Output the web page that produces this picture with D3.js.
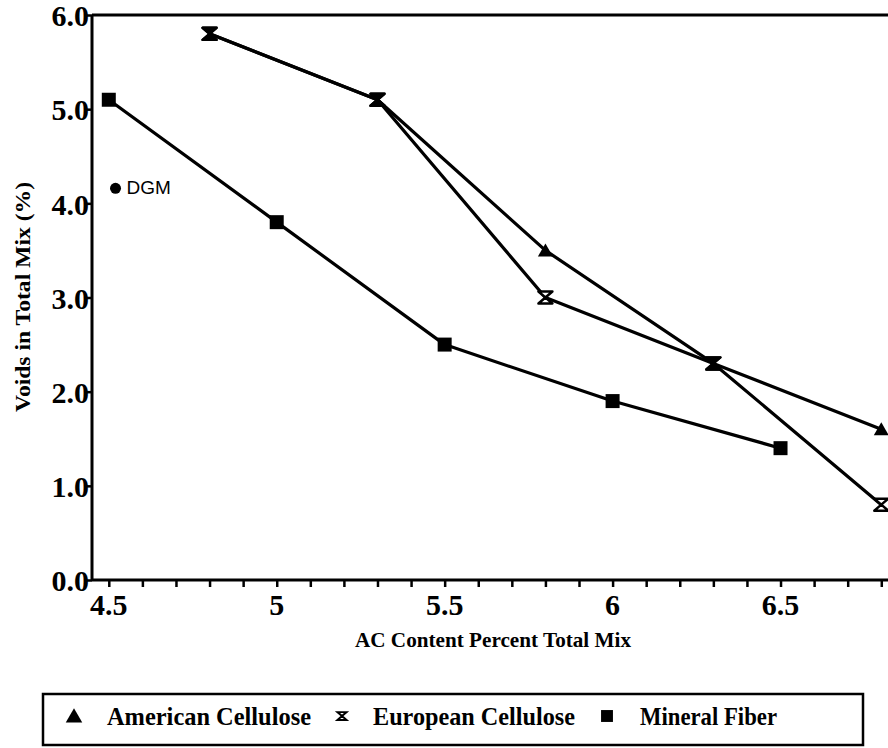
<!DOCTYPE html>
<html><head><meta charset="utf-8">
<script src="https://cdnjs.cloudflare.com/ajax/libs/d3/7.8.5/d3.min.js"></script>
<style>body{margin:0;background:#fff;} svg{display:block;}</style>
</head><body>
<svg id="c" width="888" height="748"></svg>
<script>
const acContent = [4.8, 5.3, 5.8, 6.3, 6.8];
const americanCellulose = [5.8, 5.1, 3.5, 2.3, 1.6];
const europeanCellulose = [5.8, 5.1, 3.0, 2.3, 0.8];
const mineralX = [4.5, 5.0, 5.5, 6.0, 6.5];
const mineralFiber = [5.1, 3.8, 2.5, 1.9, 1.4];
const dgmPoint = {x: 4.52, y: 4.16, label: "DGM"};
const xTickValues = [4.5, 5, 5.5, 6, 6.5];
const xTickLabels = ["4.5", "5", "5.5", "6", "6.5"];
const yTickValues = [0, 1, 2, 3, 4, 5, 6];
const seriesNames = ["American Cellulose", "European Cellulose", "Mineral Fiber"];

const svg = d3.select("#c");
const x = d3.scaleLinear().domain([4.45, 6.82]).range([92, 888]);
const y = d3.scaleLinear().domain([0, 6]).range([580, 15]);
const serif = "'Liberation Serif','Times New Roman',serif";

// top frame line
svg.append("line").attr("x1", x(4.45)).attr("x2", 888).attr("y1", y(6)).attr("y2", y(6))
  .attr("stroke", "#000").attr("stroke-width", 3);

// x axis
const minor = d3.range(45, 69).map(d => d / 10);
const xAxis = d3.axisBottom(x).tickValues(minor).tickSize(7).tickFormat("");
const gx = svg.append("g").attr("transform", `translate(0,${y(0)})`).call(xAxis);
gx.select(".domain").attr("stroke-width", 3).attr("d", `M${x(4.45)},0H888`);
gx.selectAll(".tick line").attr("stroke-width", 2.5);
gx.selectAll(".tick").filter(d => d < 4.5 - 1e-9).remove();
svg.append("g").selectAll("text").data(xTickValues).join("text")
  .attr("x", d => x(d)).attr("y", 615).attr("text-anchor", "middle")
  .attr("font-family", serif).attr("font-weight", "bold").attr("font-size", 30)
  .text((d, i) => xTickLabels[i]);

// y axis
const yAxis = d3.axisLeft(y).tickValues(yTickValues).tickSize(7).tickFormat(d3.format(".1f"));
const gy = svg.append("g").attr("transform", `translate(${x(4.45)},0)`).call(yAxis);
gy.select(".domain").attr("stroke-width", 3).attr("d", `M0,${y(6)}V${y(0)}`);
gy.selectAll(".tick line").attr("stroke-width", 2.5);
gy.selectAll(".tick text").attr("font-family", serif).attr("font-weight", "bold")
  .attr("font-size", 30).attr("x", -3).attr("dy", "0.36em").attr("fill", "#000");

// axis titles
svg.append("text").attr("x", 493).attr("y", 647).attr("text-anchor", "middle")
  .attr("font-family", serif).attr("font-weight", "bold").attr("font-size", 22)
  .attr("textLength", 276).attr("lengthAdjust", "spacingAndGlyphs")
  .text("AC Content Percent Total Mix");
svg.append("text").attr("transform", "translate(30,297) rotate(-90)").attr("text-anchor", "middle")
  .attr("font-family", serif).attr("font-weight", "bold").attr("font-size", 20)
  .attr("textLength", 230).attr("lengthAdjust", "spacingAndGlyphs")
  .text("Voids in Total Mix (%)");

const line = d3.line().x(d => x(d[0])).y(d => y(d[1]));
const amer = acContent.map((v, i) => [v, americanCellulose[i]]);
const euro = acContent.map((v, i) => [v, europeanCellulose[i]]);
const mine = mineralX.map((v, i) => [v, mineralFiber[i]]);
[amer, euro, mine].forEach(s => svg.append("path").attr("d", line(s))
  .attr("fill", "none").attr("stroke", "#000").attr("stroke-width", 3.2).attr("stroke-linejoin", "round"));

const tri = "M0,-7L7.5,6L-7.5,6Z";
const hour = "M-7,-6L7,-6L0,0L7,6L-7,6L0,0Z";
const sq = "M-7,-7H7V7H-7Z";
svg.append("g").selectAll("path").data(euro).join("path")
  .attr("transform", d => `translate(${x(d[0])},${y(d[1])})`).attr("d", hour)
  .attr("fill", "#fff").attr("stroke", "#000").attr("stroke-width", 2.5).attr("stroke-linejoin", "round");
svg.append("g").selectAll("path").data(amer.filter((d, i) => americanCellulose[i] !== europeanCellulose[i])).join("path")
  .attr("transform", d => `translate(${x(d[0])},${y(d[1])})`).attr("d", tri).attr("fill", "#000");
svg.append("g").selectAll("path").data(amer.filter((d, i) => americanCellulose[i] === europeanCellulose[i])).join("path")
  .attr("transform", d => `translate(${x(d[0])},${y(d[1])})`).attr("d", hour)
  .attr("fill", "#000").attr("stroke", "#000").attr("stroke-width", 2.5).attr("stroke-linejoin", "round");
svg.append("g").selectAll("path").data(mine).join("path")
  .attr("transform", d => `translate(${x(d[0])},${y(d[1])})`).attr("d", sq).attr("fill", "#000");

// DGM
svg.append("circle").attr("cx", x(dgmPoint.x)).attr("cy", y(dgmPoint.y)).attr("r", 5.5).attr("fill", "#000");
svg.append("text").attr("x", x(dgmPoint.x) + 11).attr("y", y(dgmPoint.y) + 6)
  .attr("font-family", "'Liberation Sans',Arial,sans-serif").attr("font-size", 19).text(dgmPoint.label);

// legend
svg.append("rect").attr("x", 43).attr("y", 694).attr("width", 820).attr("height", 51)
  .attr("fill", "none").attr("stroke", "#000").attr("stroke-width", 2.5);
const legendItems = [
  {sym: tri, sx: 74, tx: 107, tw: 204, fill: "#000", stroke: "none", sc: 1.1},
  {sym: hour, sx: 342, tx: 373, tw: 202, fill: "#fff", stroke: "#000", sc: 0.65},
  {sym: sq, sx: 607, tx: 640, tw: 137, fill: "#000", stroke: "none", sc: 0.85}
];
const lg = svg.append("g").selectAll("g").data(legendItems).join("g");
lg.append("path").attr("transform", d => `translate(${d.sx},${716}) scale(${d.sc})`).attr("d", d => d.sym)
  .attr("fill", d => d.fill).attr("stroke", d => d.stroke).attr("stroke-width", 3);
lg.append("text").attr("x", d => d.tx).attr("y", 725).attr("font-family", serif).attr("font-weight", "bold")
  .attr("font-size", 26).attr("textLength", d => d.tw).attr("lengthAdjust", "spacingAndGlyphs")
  .text((d, i) => seriesNames[i]);
</script>
</body></html>
